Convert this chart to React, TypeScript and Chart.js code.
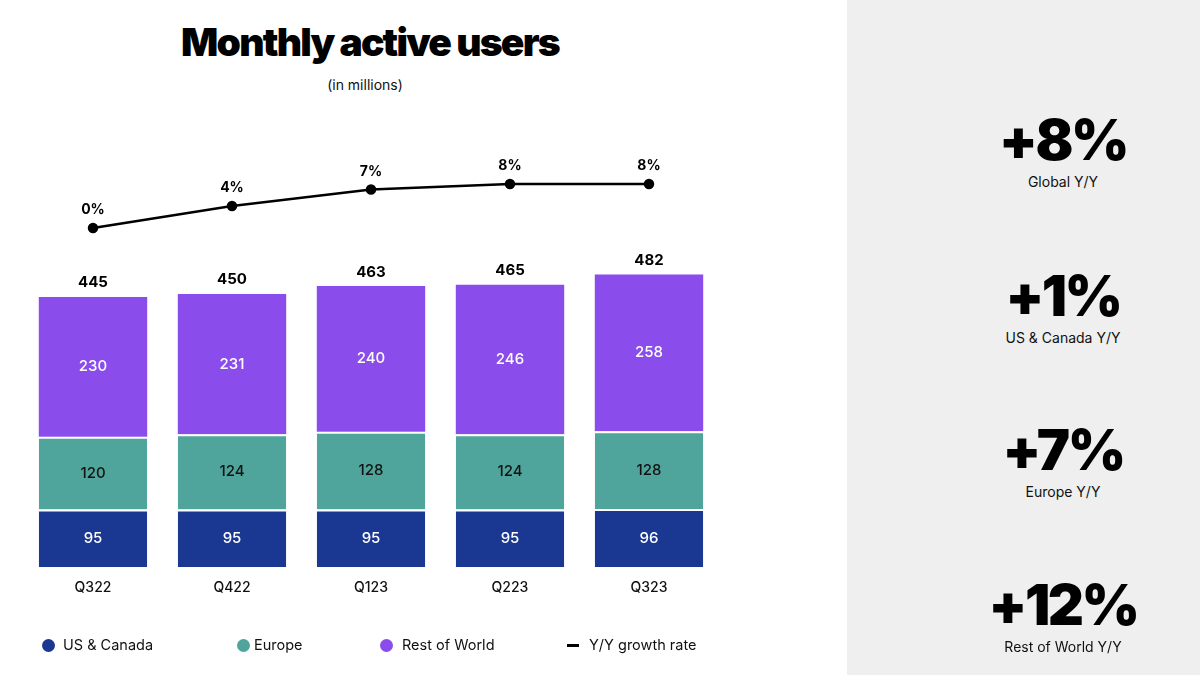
import React, { useEffect, useRef } from "react";
import { Chart, registerables } from "chart.js";

Chart.register(...registerables);

const categories = ["Q322", "Q422", "Q123", "Q223", "Q323"];
const usCanada = [95, 95, 95, 95, 96];
const europe = [120, 124, 128, 124, 128];
const restOfWorld = [230, 231, 240, 246, 258];
const totals = [445, 450, 463, 465, 482];
const growth = [0, 4, 7, 8, 8];
const growthLabels = ["0%", "4%", "7%", "8%", "8%"];
const kpiValues = ["+8%", "+1%", "+7%", "+12%"];
const kpiLabels = ["Global Y/Y", "US & Canada Y/Y", "Europe Y/Y", "Rest of World Y/Y"];
const legendLabels = ["US & Canada", "Europe", "Rest of World", "Y/Y growth rate"];

const COLORS = {
  us: "#1a3892",
  eu: "#4fa59c",
  row: "#8a4deb",
  line: "#000000",
};

const FONT = "Inter, 'Noto Sans', sans-serif";

const labelPlugin = {
  id: "mauLabels",
  afterDatasetsDraw(chart: any) {
    const ctx = chart.ctx;
    ctx.save();
    ctx.textAlign = "center";
    ctx.textBaseline = "middle";
    const segColors = ["#ffffff", "#111111", "#ffffff"];
    for (let d = 1; d <= 3; d++) {
      const meta = chart.getDatasetMeta(d);
      const values = chart.data.datasets[d].data;
      meta.data.forEach((bar: any, j: number) => {
        const p = bar.getProps(["x", "y", "base"], true);
        ctx.font = `500 15px ${FONT}`;
        ctx.fillStyle = segColors[d - 1];
        ctx.fillText(String(values[j]), p.x, (p.y + p.base) / 2);
        if (d === 3) {
          ctx.font = `700 15px ${FONT}`;
          ctx.fillStyle = "#000";
          ctx.fillText(String(totals[j]), p.x, p.y - 14);
        }
      });
    }
    const lineMeta = chart.getDatasetMeta(0);
    lineMeta.data.forEach((pt: any, j: number) => {
      const p = pt.getProps(["x", "y"], true);
      ctx.font = `700 14px ${FONT}`;
      ctx.fillStyle = "#000";
      ctx.fillText(growthLabels[j], p.x, p.y - 18);
    });
    ctx.restore();
  },
};

export default function App() {
  const canvasRef = useRef<HTMLCanvasElement | null>(null);

  useEffect(() => {
    if (!canvasRef.current) return;
    const barCommon = {
      stack: "s",
      yAxisID: "y",
      barPercentage: 0.78,
      categoryPercentage: 1,
      borderColor: "#ffffff",
      borderSkipped: false,
    };
    const chart = new Chart(canvasRef.current, {
      type: "bar",
      data: {
        labels: categories,
        datasets: [
          {
            type: "line",
            label: legendLabels[3],
            data: growth,
            yAxisID: "y2",
            borderColor: COLORS.line,
            backgroundColor: COLORS.line,
            borderWidth: 2.5,
            pointRadius: 4,
            pointBackgroundColor: COLORS.line,
            order: 0,
          } as any,
          {
            ...barCommon,
            label: legendLabels[0],
            data: usCanada,
            backgroundColor: COLORS.us,
            borderWidth: { top: 2, left: 0, right: 0, bottom: 0 },
            order: 1,
          } as any,
          {
            ...barCommon,
            label: legendLabels[1],
            data: europe,
            backgroundColor: COLORS.eu,
            borderWidth: { top: 2, left: 0, right: 0, bottom: 0 },
            order: 1,
          } as any,
          {
            ...barCommon,
            label: legendLabels[2],
            data: restOfWorld,
            backgroundColor: COLORS.row,
            borderWidth: 0,
            order: 1,
          } as any,
        ],
      },
      options: {
        animation: false,
        responsive: false,
        maintainAspectRatio: false,
        layout: { padding: { left: 23.5, right: 128.5, top: 150, bottom: 67 } },
        plugins: {
          legend: { display: false },
          tooltip: { enabled: false },
          title: { display: false },
        },
        scales: {
          x: {
            stacked: true,
            grid: { display: false, drawTicks: false },
            border: { display: false },
            ticks: {
              padding: 12,
              color: "#111",
              font: { family: FONT, size: 14, weight: 500 as any },
            },
          },
          y: { stacked: true, display: false, min: 0, max: 687 },
          y2: { display: false, min: -61.64, max: 14.18 },
        },
      },
      plugins: [labelPlugin],
    });
    return () => chart.destroy();
  }, []);

  const legendPos = [
    { marker: 48, text: 63 },
    { marker: 243, text: 254 },
    { marker: 386, text: 402 },
    { marker: 573, text: 589 },
  ];
  const legendColors = [COLORS.us, COLORS.eu, COLORS.row, COLORS.line];
  const kpiY = [140, 296, 450, 605];

  return (
    <div
      style={{
        position: "fixed",
        left: 0,
        top: 0,
        width: 1200,
        height: 675,
        background: "#ffffff",
        fontFamily: FONT,
        overflow: "hidden",
      }}
    >
      <div
        style={{
          position: "absolute",
          left: 0,
          top: 18,
          width: 740,
          textAlign: "center",
          fontSize: 39,
          fontWeight: 900,
          letterSpacing: -1.8,
          lineHeight: "48px",
          color: "#000",
        }}
      >
        Monthly active users
      </div>
      <div
        style={{
          position: "absolute",
          left: 0,
          top: 76,
          width: 730,
          textAlign: "center",
          fontSize: 14,
          lineHeight: "18px",
          color: "#111",
        }}
      >
        (in millions)
      </div>
      <canvas
        ref={canvasRef}
        width={847}
        height={675}
        style={{ position: "absolute", left: 0, top: 0, width: 847, height: 675 }}
      />
      {legendLabels.map((lbl, i) => (
        <div key={lbl}>
          {i < 3 ? (
            <div
              style={{
                position: "absolute",
                left: legendPos[i].marker - 6.5,
                top: 645 - 6.5,
                width: 13,
                height: 13,
                borderRadius: "50%",
                background: legendColors[i],
              }}
            />
          ) : (
            <div
              style={{
                position: "absolute",
                left: legendPos[i].marker - 6,
                top: 644,
                width: 12,
                height: 3,
                background: legendColors[i],
              }}
            />
          )}
          <div
            style={{
              position: "absolute",
              left: legendPos[i].text,
              top: 636,
              fontSize: 14.5,
              lineHeight: "18px",
              color: "#111",
              whiteSpace: "nowrap",
            }}
          >
            {lbl}
          </div>
        </div>
      ))}
      <div
        style={{
          position: "absolute",
          left: 847,
          top: 0,
          width: 353,
          height: 675,
          background: "#efefef",
        }}
      />
      {kpiValues.map((v, i) => (
        <div key={v + i}>
          <div
            style={{
              position: "absolute",
              left: 913,
              width: 300,
              top: kpiY[i] - 35,
              textAlign: "center",
              fontSize: 56,
              fontWeight: 900,
              letterSpacing: -2.5,
              lineHeight: "70px",
              color: "#000",
            }}
          >
            {v}
          </div>
          <div
            style={{
              position: "absolute",
              left: 913,
              width: 300,
              top: kpiY[i] + 33,
              textAlign: "center",
              fontSize: 14,
              lineHeight: "18px",
              color: "#111",
            }}
          >
            {kpiLabels[i]}
          </div>
        </div>
      ))}
    </div>
  );
}
